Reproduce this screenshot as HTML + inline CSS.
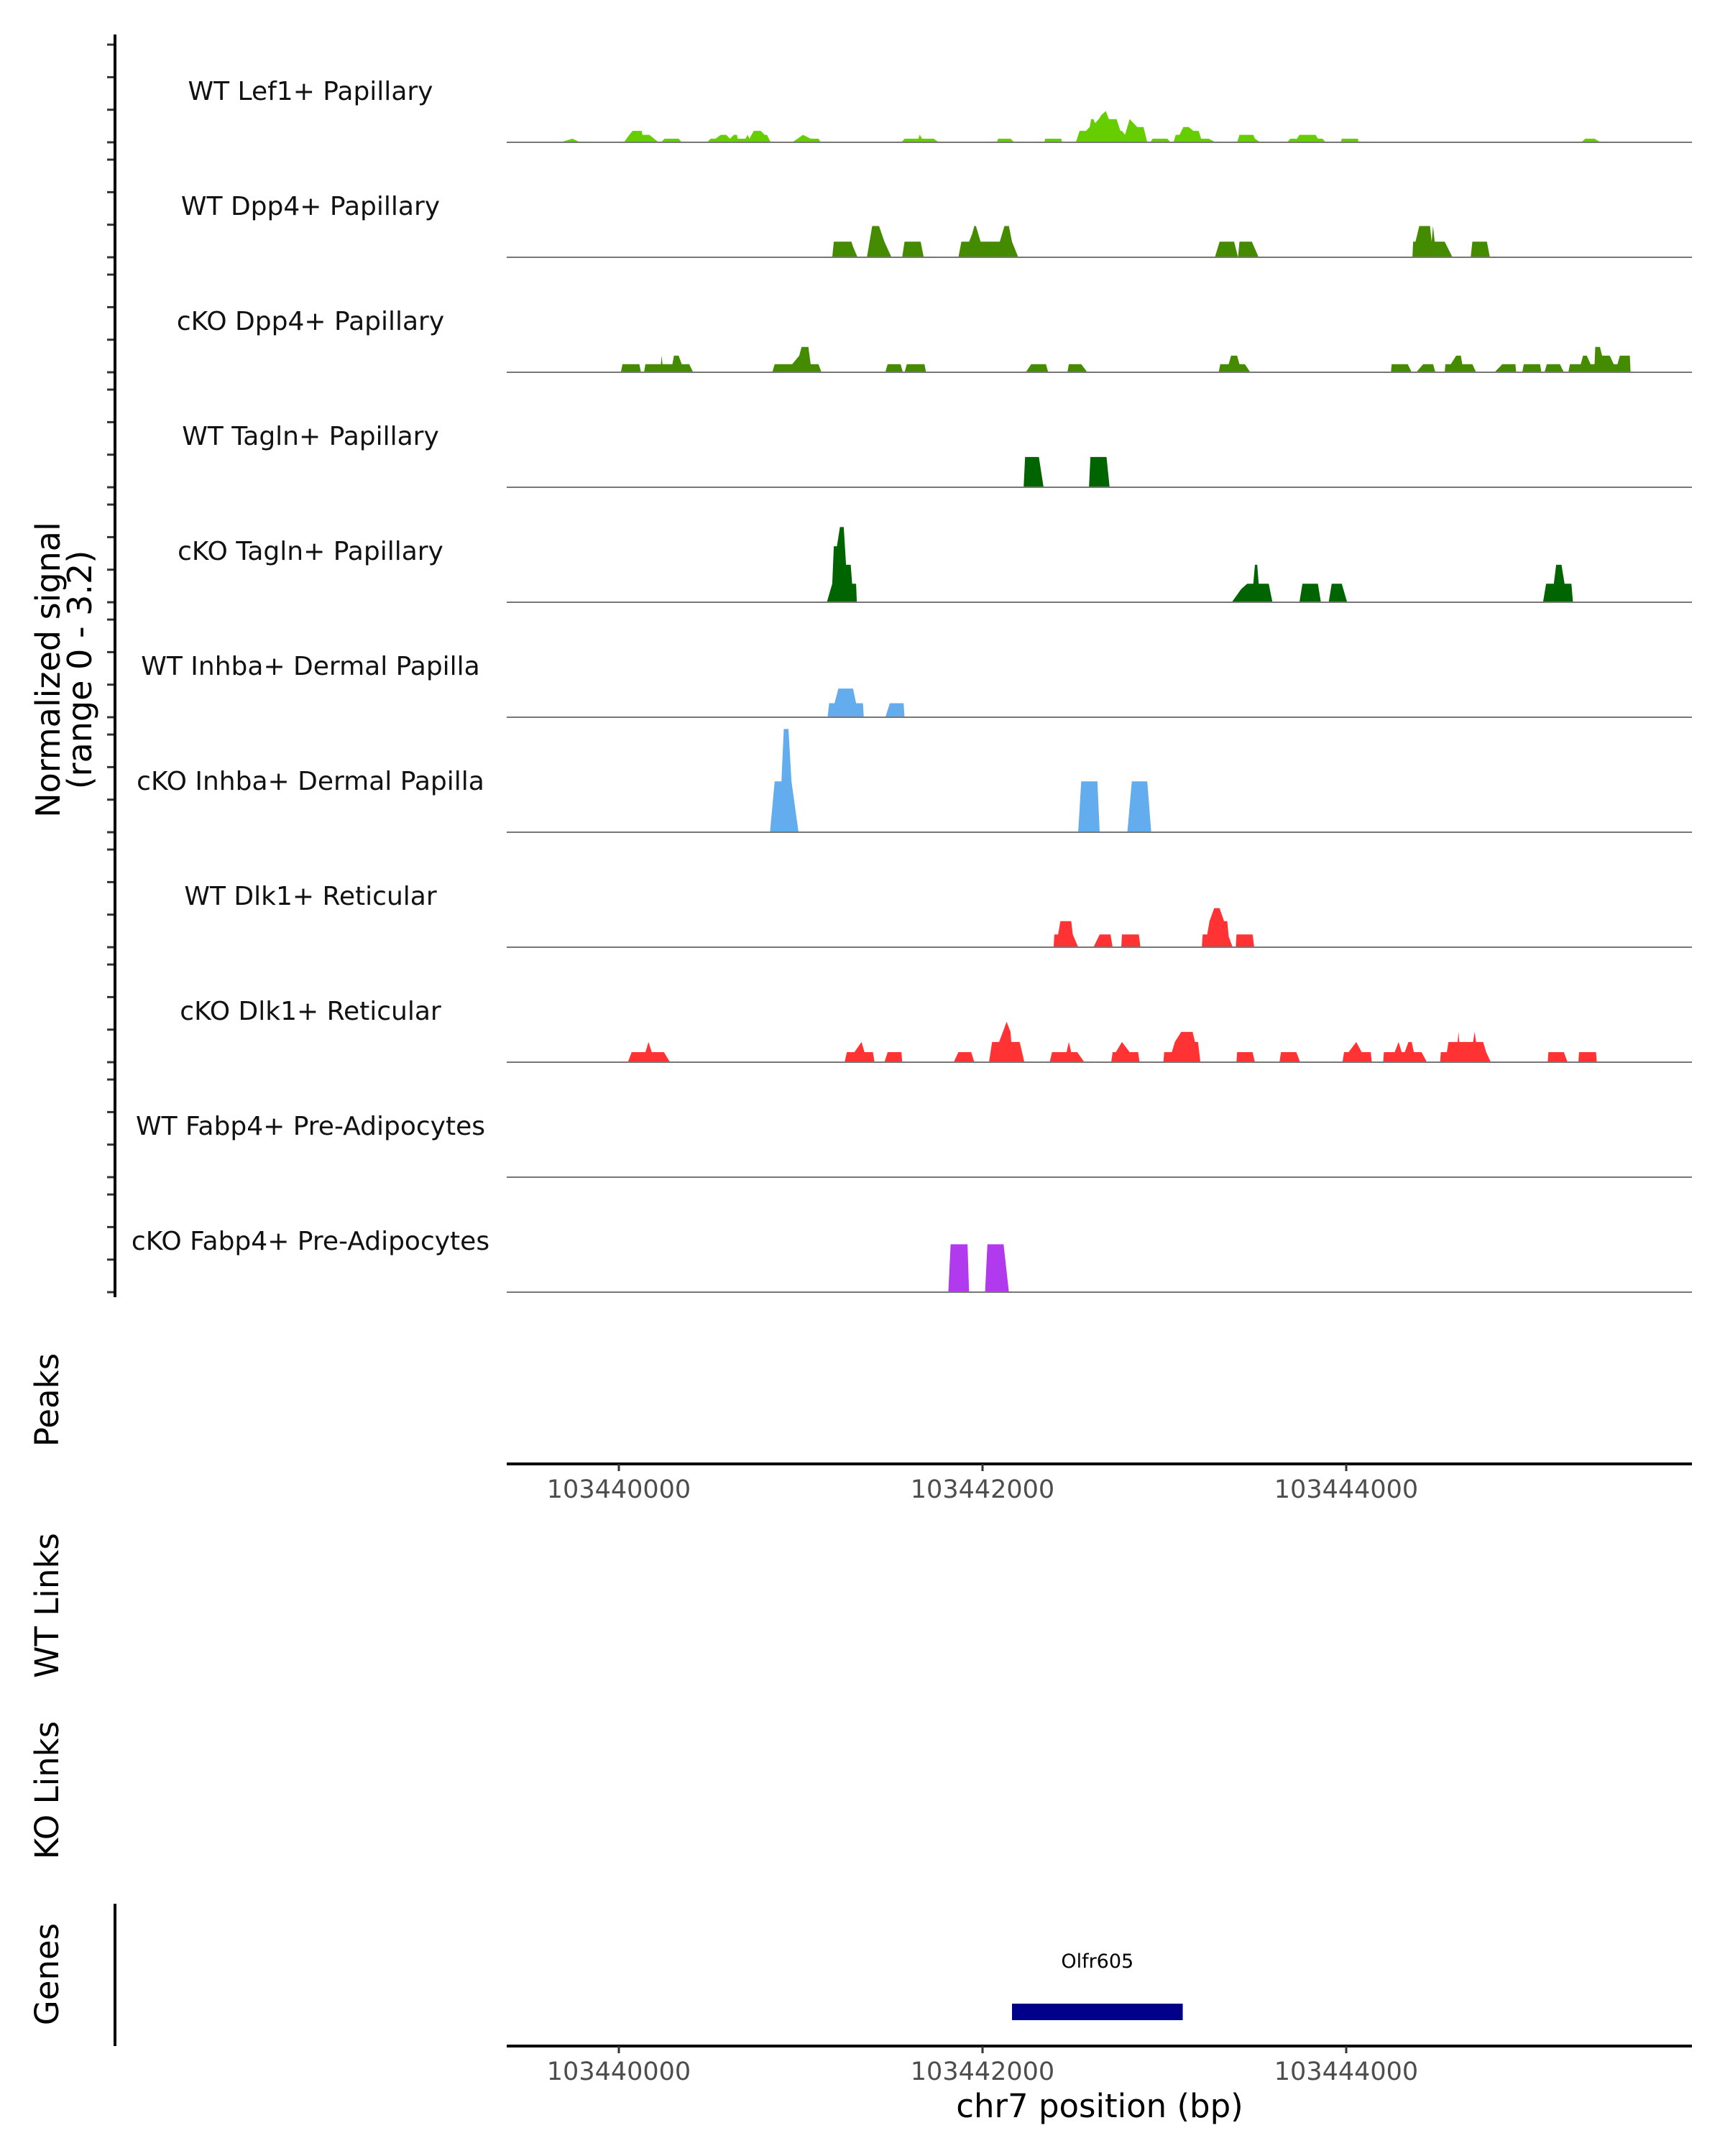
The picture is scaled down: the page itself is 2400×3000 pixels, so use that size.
<!DOCTYPE html>
<html><head><meta charset="utf-8"><style>
html,body{margin:0;padding:0;background:#fff;}
svg{display:block;font-family:"DejaVu Sans","Liberation Sans",sans-serif;}
</style></head><body>
<svg id="chart" width="2400" height="3000" viewBox="0 0 2400 3000" xmlns="http://www.w3.org/2000/svg">
<rect x="0" y="0" width="2400" height="3000" fill="#fff"/>
<g id="tracks"></g>
<g id="yaxis"></g>
<text transform="translate(83,932) rotate(-90)" text-anchor="middle" font-size="46" fill="#000">Normalized signal</text>
<text transform="translate(127,932) rotate(-90)" text-anchor="middle" font-size="46" fill="#000">(range 0 - 3.2)</text>
<text transform="translate(81,1948) rotate(-90)" text-anchor="middle" font-size="45" fill="#000">Peaks</text>
<text transform="translate(81,2234) rotate(-90)" text-anchor="middle" font-size="45" fill="#000">WT Links</text>
<text transform="translate(81,2491) rotate(-90)" text-anchor="middle" font-size="45" fill="#000">KO Links</text>
<text transform="translate(81,2747) rotate(-90)" text-anchor="middle" font-size="45" fill="#000">Genes</text>
<line x1="160" y1="2649" x2="160" y2="2847" stroke="#000" stroke-width="4"/>
<g id="xaxes"></g>
<g id="genes"></g>
<text x="1530" y="2946" text-anchor="middle" font-size="45" fill="#000">chr7 position (bp)</text>
</svg>
<script>
const regionStart = 103439365;
const posUnit = 0.9866;
const trackNames = ["WT Lef1+ Papillary","WT Dpp4+ Papillary","cKO Dpp4+ Papillary","WT Tagln+ Papillary","cKO Tagln+ Papillary","WT Inhba+ Dermal Papilla","cKO Inhba+ Dermal Papilla","WT Dlk1+ Reticular","cKO Dlk1+ Reticular","WT Fabp4+ Pre-Adipocytes","cKO Fabp4+ Pre-Adipocytes"];
const trackColors = ["#66CD00","#458B00","#458B00","#006400","#006400","#63ACEE","#63ACEE","#FF3333","#FF3333","#B23AEE","#B23AEE"];
const yTicks = [0,1,2,3];
const xTicks = [103440000,103442000,103444000];
const xTickLabels = ["103440000","103442000","103444000"];
const geneName = "Olfr605";
const geneStart = 103442162;
const geneEnd = 103443101;

const t1Pos = [317,385,428, 672,698,720,771,775,814,865, 878,899,977,994, 1135,1156,1182,1212,1242,1263,1285,1302,1306,1349,1362,1371,1396,1435,1456,1469,1490, 1610,1640,1670,1713,1756,1769, 2219,2236,2313,2321,2334,2398,2428, 2750,2758,2827,2848, 3015,3020,3109,3114, 3191,3212,3247,3268,3276,3289,3298,3319,3332,3358,3375,3418,3439,3448,3465,3491,3512,3533,3568,3589, 3606,3619,3701,3718, 3735,3748,3769,3790,3820,3846,3876,3889,3932,3970, 4090,4103,4180,4189,4219, 4369,4386,4424,4437,4527,4540,4566,4583, 4668,4673,4763,4767, 6009,6030,6082,6116];
const t1Val = [0,.11,0, 0,.2,.35,.35,.23,.23,0, 0,.11,.11,0, 0,.11,.11,.23,.23,.11,.23,.23,.11,.11,.23,.11,.35,.35,.23,.23,0, 0,.11,.23,.11,.11,0, 0,.11,.11,.23,.11,.11,0, 0,.11,.11,0, 0,.11,.11,0, 0,.35,.35,.47,.71,.71,.59,.71,.83,.96,.71,.71,.35,.35,.23,.71,.59,.47,.47,0, 0,.11,.11,0, 0,.23,.23,.47,.47,.35,.35,.11,.11,0, 0,.23,.23,.11,0, 0,.11,.11,.23,.23,.11,.11,0, 0,.11,.11,0, 0,.11,.11,0];

const t2Pos = [1833,1842,1940,1949,1974, 2026,2056,2094,2124,2163, 2223,2236,2326,2343, 2536,2553,2596,2613,2625,2634,2660,2767,2793,2818,2835,2870, 3966,3992,4073,4095,4103,4172,4210, 5067,5071,5084,5105,5165,5174,5182,5191,5247,5290, 5392,5401,5482,5499];
const t2Val = [0,.48,.48,.33,0, 0,.96,.96,.48,0, 0,.48,.48,0, 0,.48,.48,.72,.96,.96,.48,.48,.96,.96,.48,0, 0,.48,.48,0,.48,.48,0, 0,.48,.48,.96,.96,.48,.96,.48,.48,0, 0,.48,.48,0];

const t3Pos = [655,664,758,767,784,792,878,882,887,942,951,977,994,1036,1058, 1499,1512,1610,1649,1662,1700,1713,1756,1773, 2129,2142,2214,2227,2236,2249,2347,2356, 2912,2942,3024,3037, 3144,3152,3221,3255, 3987,3996,4043,4056,4090,4103,4133,4163, 4947,4951,5041,5063,5088,5127,5182,5195, 5247,5251,5281,5311,5337,5345,5401,5422, 5525,5568,5641,5645, 5679,5688,5778,5786,5803,5816,5889,5911, 5936,5945,6005,6018,6039,6060,6082,6086,6112,6124,6167,6189,6210,6223,6279,6283];
const t3Val = [0,.25,.25,0,0,.25,.25,.51,.25,.25,.51,.51,.25,.25,0, 0,.25,.25,.51,.78,.78,.25,.25,0, 0,.25,.25,0,0,.25,.25,0, 0,.25,.25,0, 0,.25,.25,0, 0,.25,.25,.51,.51,.25,.25,0, 0,.25,.25,0,0,.25,.25,0, 0,.25,.25,.51,.51,.25,.25,0, 0,.25,.25,0, 0,.25,.25,0,0,.25,.25,0, 0,.25,.25,.51,.51,.25,.25,.78,.78,.51,.51,.25,.25,.51,.51,0];

const t4Pos = [2900,2908,2985,3011, 3264,3272,3362,3379];
const t4Val = [0,.93,.93,0, 0,.93,.93,0];

const t5Pos = [1803,1833,1842,1859,1876,1897,1910,1936,1944,1966,1970, 4060,4112,4146,4180,4189,4202,4210,4266,4287, 4437,4454,4540,4557, 4600,4617,4673,4703, 5795,5812,5855,5868,5898,5915,5953,5962];
const t5Val = [0,.57,1.72,1.72,2.31,2.31,1.15,1.15,.57,.57,0, 0,.4,.57,.57,1.15,1.15,.57,.57,0, 0,.57,.57,0, 0,.57,.57,0, 0,.57,.57,1.15,1.15,.57,.57,0];

const t6Pos = [1807,1816,1846,1867,1949,1966,2004,2009, 2129,2154,2231,2236];
const t6Val = [0,.43,.43,.88,.88,.43,.43,0, 0,.43,.43,0];

const t7Pos = [1486,1512,1550,1563,1589,1606,1645, 3204,3221,3311,3324, 3478,3503,3589,3611];
const t7Val = [0,1.56,1.56,3.17,3.17,1.56,0, 0,1.56,1.56,0, 0,1.56,1.56,0];

const t8Pos = [3067,3071,3092,3105,3165,3174,3204, 3289,3324,3384,3396, 3444,3448,3542,3551, 3893,3898,3923,3936,3962,3992,4017,4035,4043,4065, 4082,4086,4176,4185];
const t8Val = [0,.39,.39,.8,.8,.39,0, 0,.39,.39,0, 0,.39,.39,0, 0,.39,.39,.8,1.2,1.2,.8,.8,.33,0, 0,.39,.39,0];

const t9Pos = [694,715,792,809,827,895,929, 1902,1915,1957,1996,2013,2060,2069, 2124,2142,2219,2223, 2510,2536,2608,2625, 2707,2724,2763,2784,2805,2827,2831,2878,2904, 3045,3058,3139,3152,3165,3199,3238, 3388,3396,3414,3448,3491,3538,3546, 3679,3683,3726,3743,3778,3842,3855,3872,3885, 4086,4090,4176,4189, 4326,4334,4420,4441, 4677,4686,4711,4754,4784,4835,4840, 4904,4908,4968,4990,5007,5024,5045,5063,5075,5118,5148, 5221,5225,5259,5268,5319,5324,5328,5405,5414,5422,5461,5478,5504, 5821,5825,5911,5932, 5992,5996,6090,6095];
const t9Val = [0,.31,.31,.62,.31,.31,0, 0,.31,.31,.62,.31,.31,0, 0,.31,.31,0, 0,.31,.31,0, 0,.62,.62,.93,1.24,.93,.62,.62,0, 0,.31,.31,.62,.31,.31,0, 0,.31,.31,.62,.31,.31,0, 0,.31,.31,.62,.93,.93,.62,.62,0, 0,.31,.31,0, 0,.31,.31,0, 0,.31,.31,.62,.31,.31,0, 0,.31,.31,.62,.31,.31,.62,.62,.31,.31,0, 0,.31,.31,.62,.62,.93,.62,.62,.93,.62,.62,.31,0, 0,.31,.31,0, 0,.31,.31,0];

const t10Pos = [];
const t10Val = [];

const t11Pos = [2480,2493,2587,2596, 2685,2698,2788,2818];
const t11Val = [0,1.47,1.47,0, 0,1.47,1.47,0];

const trackPos = [t1Pos,t2Pos,t3Pos,t4Pos,t5Pos,t6Pos,t7Pos,t8Pos,t9Pos,t10Pos,t11Pos];
const trackVal = [t1Val,t2Val,t3Val,t4Val,t5Val,t6Val,t7Val,t8Val,t9Val,t10Val,t11Val];

const NS = "http://www.w3.org/2000/svg";
const X0 = 705, X1 = 2354;
function xScale(bp){ return 861 + (bp - 103440000) * 0.253; }
function posToBp(off){ return regionStart + off * posUnit; }
function trackBase(i){ return 198 + 160 * i; }
function yScale(i, v){ return trackBase(i) - v * 45.3; }
function mk(tag, attrs, parent){ const e = document.createElementNS(NS, tag); for (const k in attrs) e.setAttribute(k, attrs[k]); parent.appendChild(e); return e; }

const tracksG = document.getElementById('tracks');
const yaxisG = document.getElementById('yaxis');
trackNames.forEach((name, i) => {
  const base = trackBase(i);
  const lbl = mk('text', {x: 432, y: base - 59, 'text-anchor': 'middle', 'font-size': 36, fill: '#111'}, tracksG);
  lbl.textContent = name;
  
  
  const pos = trackPos[i], val = trackVal[i];
  if (pos.length) {
    let d = 'M' + xScale(posToBp(pos[0])).toFixed(1) + ',' + base;
    for (let k = 0; k < pos.length; k++) d += ' L' + xScale(posToBp(pos[k])).toFixed(1) + ',' + yScale(i, val[k]).toFixed(1);
    d += ' L' + xScale(posToBp(pos[pos.length - 1])).toFixed(1) + ',' + base + ' Z';
    const p = mk('path', {d: d, fill: trackColors[i], stroke: 'none'}, tracksG);
    
    
  }
  const bl = mk('line', {x1: X0, x2: X1, y1: base, y2: base, stroke: '#777', 'stroke-width': 2}, tracksG);
  
  
  yTicks.forEach(t => {
    const tk = mk('line', {x1: 149, x2: 159, y1: yScale(i, t), y2: yScale(i, t), stroke: '#333', 'stroke-width': 3}, yaxisG);
    
    
  });
});
const yl = mk('line', {x1: 160, x2: 160, y1: 48, y2: 1805, stroke: '#000', 'stroke-width': 4}, yaxisG);



const xaxesG = document.getElementById('xaxes');
[2037, 2847].forEach(ay => {
  const al = mk('line', {x1: X0, x2: X1, y1: ay, y2: ay, stroke: '#000', 'stroke-width': 4}, xaxesG);
  
  
  xTicks.forEach((t, k) => {
    const tk = mk('line', {x1: xScale(t), x2: xScale(t), y1: ay, y2: ay + 10, stroke: '#333', 'stroke-width': 3}, xaxesG);
    
    
    const tl = mk('text', {x: xScale(t), y: ay + 47, 'text-anchor': 'middle', 'font-size': 35, fill: '#4d4d4d'}, xaxesG);
    tl.textContent = xTickLabels[k];
    
    
  });
});

const genesG = document.getElementById('genes');
const gb = mk('rect', {x: xScale(geneStart), y: 2788, width: xScale(geneEnd) - xScale(geneStart), height: 23, fill: '#00008B'}, genesG);


const gl = mk('text', {x: (xScale(geneStart) + xScale(geneEnd)) / 2, y: 2738, 'text-anchor': 'middle', 'font-size': 27, fill: '#000'}, genesG);
gl.textContent = geneName;


</script>
</body></html>
